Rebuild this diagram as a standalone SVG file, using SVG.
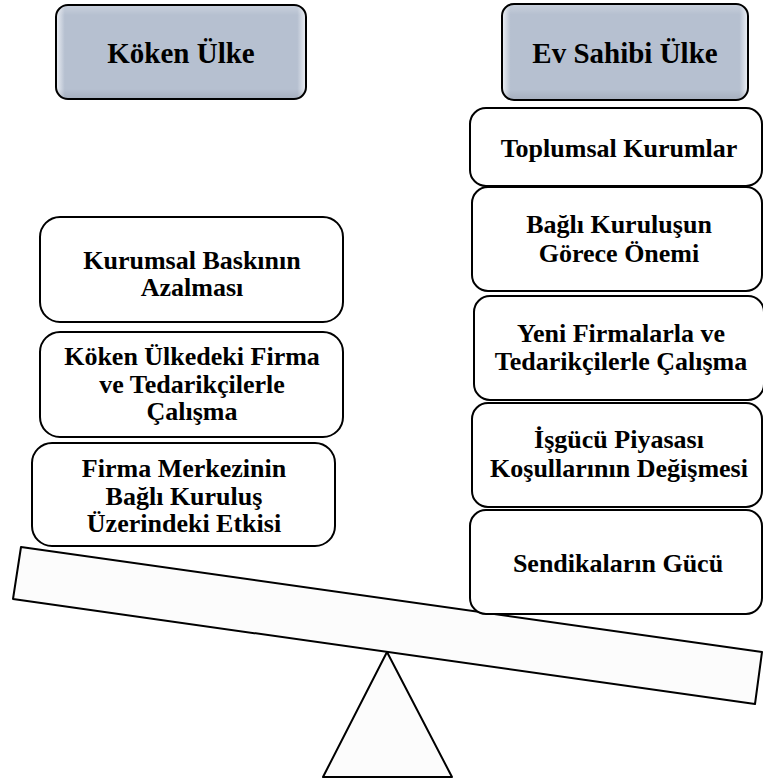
<svg xmlns="http://www.w3.org/2000/svg" width="763" height="784" viewBox="0 0 763 784">
<defs>
<linearGradient id="hdr" x1="0" y1="0" x2="1" y2="0">
<stop offset="0" stop-color="#eef1f6"/>
<stop offset="0.035" stop-color="#b6c0d0"/>
<stop offset="0.965" stop-color="#b6c0d0"/>
<stop offset="1" stop-color="#eef1f6"/>
</linearGradient>
<linearGradient id="hdrv" x1="0" y1="0" x2="0" y2="1">
<stop offset="0" stop-color="#ffffff" stop-opacity="0.25"/>
<stop offset="0.1" stop-color="#ffffff" stop-opacity="0"/>
<stop offset="0.9" stop-color="#000000" stop-opacity="0"/>
<stop offset="1" stop-color="#000000" stop-opacity="0.08"/>
</linearGradient>
</defs>
<style>
.box{fill:#ffffff;stroke:#000000;stroke-width:2}
.hdr{fill:url(#hdr);stroke:#000000;stroke-width:2}
.hdrv{fill:url(#hdrv);stroke:none}
.t{font-family:"Liberation Serif","Times New Roman",serif;font-weight:bold;font-size:26px;text-anchor:middle;fill:#000000}
.h{font-family:"Liberation Serif","Times New Roman",serif;font-weight:bold;font-size:29px;text-anchor:middle;fill:#000000}
.shape{fill:#fcfcfc;stroke:#000000;stroke-width:2;stroke-linejoin:round}
</style>
<rect width="763" height="784" fill="#ffffff"/>

<g id="fulcrum">
<polygon class="shape" points="387,652 323,777 452,777"/>
</g>
<g id="beam">
<polygon class="shape" points="21,547 762,652 755,704 13,599"/>
</g>

<g id="header-koken">
<rect class="hdr" x="56" y="5" width="250" height="94" rx="12"/>
<rect class="hdrv" x="57" y="6" width="248" height="92" rx="11"/>
<text class="h" x="181" y="63">Köken Ülke</text>
</g>
<g id="header-evsahibi">
<rect class="hdr" x="502" y="4" width="246" height="96" rx="12"/>
<rect class="hdrv" x="503" y="5" width="244" height="94" rx="11"/>
<text class="h" x="625" y="63">Ev Sahibi Ülke</text>
</g>

<g id="left-1">
<rect class="box" x="40" y="217" width="303" height="105" rx="20"/>
<text class="t" x="192" y="269">Kurumsal Baskının</text>
<text class="t" x="192" y="296">Azalması</text>
</g>
<g id="left-2">
<rect class="box" x="40" y="332" width="303" height="105" rx="20"/>
<text class="t" x="192" y="365">Köken Ülkedeki Firma</text>
<text class="t" x="192" y="393">ve Tedarikçilerle</text>
<text class="t" x="192" y="420">Çalışma</text>
</g>
<g id="left-3">
<rect class="box" x="32" y="443" width="303" height="103" rx="20"/>
<text class="t" x="184" y="477">Firma Merkezinin</text>
<text class="t" x="184" y="505">Bağlı Kuruluş</text>
<text class="t" x="184" y="532">Üzerindeki Etkisi</text>
</g>

<g id="right-1">
<rect class="box" x="470" y="108" width="292" height="78" rx="16"/>
<text class="t" x="619" y="157">Toplumsal Kurumlar</text>
</g>
<g id="right-2">
<rect class="box" x="472" y="187" width="290" height="104" rx="16"/>
<text class="t" x="619" y="233">Bağlı Kuruluşun</text>
<text class="t" x="619" y="262">Görece Önemi</text>
</g>
<g id="right-3">
<rect class="box" x="474" y="296" width="290" height="104" rx="16"/>
<text class="t" x="621" y="342">Yeni Firmalarla ve</text>
<text class="t" x="621" y="370">Tedarikçilerle Çalışma</text>
</g>
<g id="right-4">
<rect class="box" x="472" y="403" width="290" height="104" rx="16"/>
<text class="t" x="619" y="448">İşgücü Piyasası</text>
<text class="t" x="619" y="477">Koşullarının Değişmesi</text>
</g>
<g id="right-5">
<rect class="box" x="470" y="510" width="292" height="104" rx="16"/>
<text class="t" x="618" y="572">Sendikaların Gücü</text>
</g>

<g id="connectors"/>
</svg>
